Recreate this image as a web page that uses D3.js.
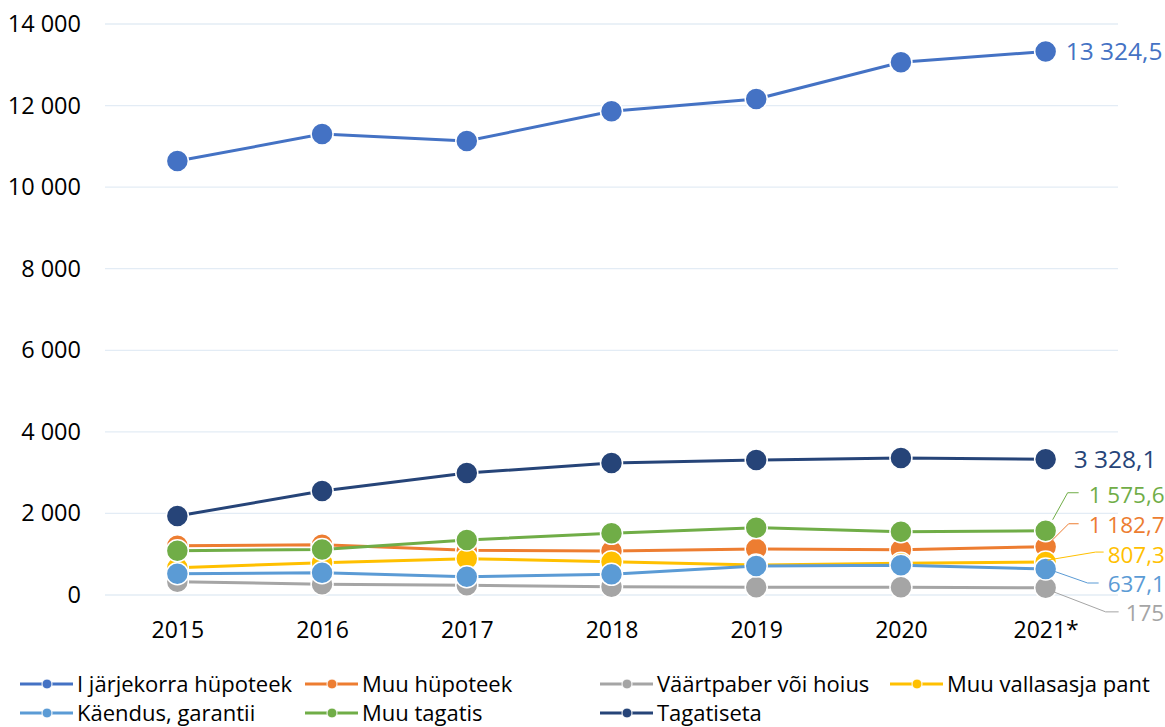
<!DOCTYPE html>
<html>
<head>
<meta charset="utf-8">
<script src="https://cdn.jsdelivr.net/npm/d3@7"></script>
<style>
  body { margin: 0; background: #fff; }
  svg { font-family: "Open Sans", "Noto Sans", sans-serif; }
</style>
</head>
<body>
<div id="chart"></div>
<script>
// data
var years = ["2015", "2016", "2017", "2018", "2019", "2020", "2021*"]
var seriesNames = ["I järjekorra hüpoteek", "Muu hüpoteek", "Väärtpaber või hoius", "Muu vallasasja pant", "Käendus, garantii", "Muu tagatis", "Tagatiseta"]
var hypoteek1 = [10640, 11300, 11130, 11860, 12160, 13060, 13324.5]
var muuHypoteek = [1208, 1233, 1095, 1078, 1127, 1110, 1182.7]
var vaartpaber = [326, 262, 237, 204, 188, 188, 175]
var vallasasi = [669, 792, 890, 816, 735, 776, 807.3]
var kaendus = [522, 547, 449, 507, 711, 727, 637.1]
var muuTagatis = [1086, 1115, 1348, 1512, 1650, 1551, 1575.6]
var tagatiseta = [1936, 2549, 2990, 3235, 3309, 3358, 3328.1]
var yTicks = [0, 2000, 4000, 6000, 8000, 10000, 12000, 14000]

var allValues = [hypoteek1, muuHypoteek, vaartpaber, vallasasi, kaendus, muuTagatis, tagatiseta]
var colors = ["#4472C4", "#ED7D31", "#A5A5A5", "#FFC000", "#5B9BD5", "#70AD47", "#264478"]

// end-label placement (layout only): leader polyline offsets from last point, text offset, size
var endLabels = [
  { leader: null, tx: 20, ty: 0, size: 24.5 },
  { leader: [[5, -5], [23, -23], [33, -23]], tx: 43, ty: -22, size: 22.5 },
  { leader: [[8, 4], [60, 24], [73, 24]], tx: 80, ty: 25, size: 22.5 },
  { leader: [[2, -2], [50, -10], [58, -10]], tx: 62, ty: -7, size: 22.5 },
  { leader: [[5, 1], [42, 14], [53, 14]], tx: 62, ty: 15, size: 22.5 },
  { leader: [[7, -11], [22, -38], [33, -38]], tx: 43, ty: -36, size: 22.5 },
  { leader: null, tx: 28, ty: 0, size: 24.5 }
]

var svgWidth = 1165
var svgHeight = 727

var svg = d3.select("#chart")
  .append("svg")
  .attr("width", svgWidth)
  .attr("height", svgHeight)

var locale = d3.formatLocale({ decimal: ",", thousands: " ", grouping: [3], currency: ["", ""] })
var tickFmt = locale.format(",.0f")
var labelFmt = locale.format(",.1~f")

// scales
var xScale = d3.scalePoint()
  .domain(years)
  .range([105, 1118])
  .padding(0.5)

var yScale = d3.scaleLinear()
  .domain([0, 14000])
  .range([595, 24])

// gridlines
svg.append("g")
  .selectAll("line")
  .data(yTicks)
  .enter()
  .append("line")
  .attr("x1", 105)
  .attr("x2", 1118)
  .attr("y1", d => yScale(d))
  .attr("y2", d => yScale(d))
  .attr("stroke", "#e3ecf5")
  .attr("stroke-width", 1.3)

// y axis labels
var leftAxis = d3.axisLeft(yScale)
  .tickValues(yTicks)
  .tickFormat(tickFmt)
  .tickSize(0)
  .tickPadding(0)

svg.append("g")
  .attr("transform", "translate(81,0)")
  .call(leftAxis)
  .call(g => g.select(".domain").remove())
  .selectAll("text")
  .attr("font-size", 23.5)
  .attr("fill", "#000")
  .attr("font-family", "\"Open Sans\", sans-serif")

// x axis labels
var bottomAxis = d3.axisBottom(xScale)
  .tickSize(0)
  .tickPadding(0)

svg.append("g")
  .attr("transform", "translate(0,622)")
  .call(bottomAxis)
  .call(g => g.select(".domain").remove())
  .selectAll("text")
  .attr("font-size", 23)
  .attr("fill", "#000")
  .attr("font-family", "\"Open Sans\", sans-serif")

// lines and markers
var line = d3.line()
  .x((d, i) => xScale(years[i]))
  .y(d => yScale(d))

allValues.forEach(function(values, s) {
  var g = svg.append("g")
  g.append("path")
    .attr("d", line(values))
    .attr("fill", "none")
    .attr("stroke", colors[s])
    .attr("stroke-width", 3)
  g.selectAll("circle")
    .data(values)
    .enter()
    .append("circle")
    .attr("cx", (d, i) => xScale(years[i]))
    .attr("cy", d => yScale(d))
    .attr("r", 11)
    .attr("fill", colors[s])
    .attr("stroke", "#fff")
    .attr("stroke-width", 1.5)
})

// end labels
allValues.forEach(function(values, s) {
  var last = values[values.length - 1]
  var px = xScale(years[years.length - 1])
  var py = yScale(last)
  var lab = endLabels[s]
  if (lab.leader) {
    svg.append("polyline")
      .attr("points", lab.leader.map(p => (px + p[0]) + "," + (py + p[1])).join(" "))
      .attr("fill", "none")
      .attr("stroke", colors[s])
      .attr("stroke-width", 1)
  }
  svg.append("text")
    .attr("x", px + lab.tx)
    .attr("y", py + lab.ty)
    .attr("dy", "0.35em")
    .attr("font-size", lab.size)
    .attr("fill", colors[s])
    .text(labelFmt(last))
})

// legend
var legendPos = [[20, 684], [305, 684], [600, 684], [890, 684], [20, 713], [305, 713], [600, 713]]
var legend = svg.append("g")
  .selectAll("g")
  .data(seriesNames)
  .enter()
  .append("g")
  .attr("transform", (d, i) => `translate(${legendPos[i][0]}, ${legendPos[i][1]})`)

legend.append("line")
  .attr("x1", 0)
  .attr("x2", 53)
  .attr("stroke", (d, i) => colors[i])
  .attr("stroke-width", 3)

legend.append("circle")
  .attr("cx", 27)
  .attr("r", 5)
  .attr("fill", (d, i) => colors[i])
  .attr("stroke", "#fff")
  .attr("stroke-width", 1)

legend.append("text")
  .attr("x", 57)
  .attr("dy", "0.35em")
  .attr("font-size", 22)
  .attr("fill", "#000")
  .text(d => d)
</script>
</body>
</html>
